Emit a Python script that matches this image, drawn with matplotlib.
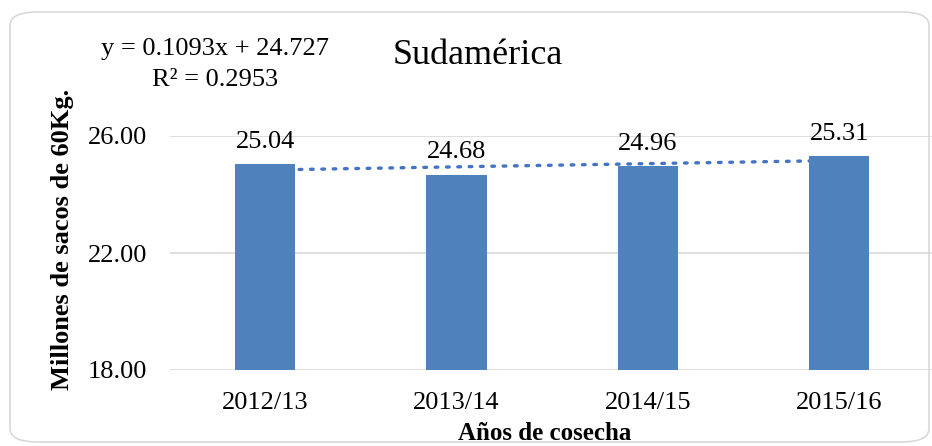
import matplotlib
matplotlib.use("Agg")
import matplotlib.pyplot as plt
from matplotlib.patches import FancyBboxPatch
import numpy as np

categories = ["2012/13", "2013/14", "2014/15", "2015/16"]
values = [25.04, 24.68, 24.96, 25.31]
yticks = [18.00, 22.00, 26.00]
slope, intercept = 0.1093, 24.727
r_squared = 0.2953

W, H = 932, 446
fig = plt.figure(figsize=(W / 100, H / 100), dpi=100)
plt.rcParams["font.family"] = ["Liberation Serif", "DejaVu Serif"]

# rounded chart frame
frame = FancyBboxPatch((10 / W, 4 / H), 919 / W, 430 / H,
                       boxstyle="round,pad=0,rounding_size=0.03",
                       transform=fig.transFigure, facecolor="white",
                       edgecolor="#D9D9D9", linewidth=1.2, zorder=-1)
fig.patches.append(frame)

left, right = 169.5, 935.0
bottom, top = 370.0, 136.0
ax = fig.add_axes([left / W, (H - bottom) / H, (right - left) / W, (bottom - top) / H])
ax.set_facecolor("none")
ax.set_zorder(2)

x = np.arange(len(categories))
bars = ax.bar(x, values, width=0.315, color="#4F81BD", zorder=3)

# linear trend (Excel x = 1..n)
xt = np.array([1, len(categories)])
ax.plot(xt - 1, slope * xt + intercept, linestyle=(0, (0.8, 2.6)), color="#4472C4",
        linewidth=2.4, zorder=2, dash_capstyle="round")

for xi, v in zip(x, values):
    ax.annotate(f"{v:.2f}", (xi, v), xytext=(0, 8), textcoords="offset points",
                ha="center", va="bottom", fontsize=19, annotation_clip=False)

ax.set_xlim(-0.5, len(categories) - 0.5)
ax.set_ylim(18, 26)
ax.set_yticks(yticks)
ax.set_yticklabels([f"{t:.2f}" for t in yticks], fontsize=19)
ax.set_xticks(x)
ax.set_xticklabels(categories, fontsize=19)
ax.yaxis.grid(True, color="#D9D9D9", linewidth=1.2, zorder=0)
ax.set_axisbelow(True)
for s in ax.spines.values():
    s.set_visible(False)
ax.tick_params(axis="y", length=0, pad=16)
ax.tick_params(axis="x", length=0, pad=16)

fig.text(478 / W, 1 - 56 / H, "Sudamérica", ha="center", va="center", fontsize=26)
fig.text(215 / W, 1 - 49 / H, f"y = {slope}x + {intercept}", ha="center", va="center", fontsize=19)
fig.text(215 / W, 1 - 80 / H, f"R² = {r_squared}", ha="center", va="center", fontsize=19)
fig.text(63 / W, 1 - 239 / H, "Millones de sacos de 60Kg.", rotation=90, ha="center",
         va="center", fontsize=19, fontweight="bold")
fig.text(545 / W, 1 - 433 / H, "Años de cosecha", ha="center", va="center",
         fontsize=18, fontweight="bold")

fig.savefig("out.png", dpi=100)
